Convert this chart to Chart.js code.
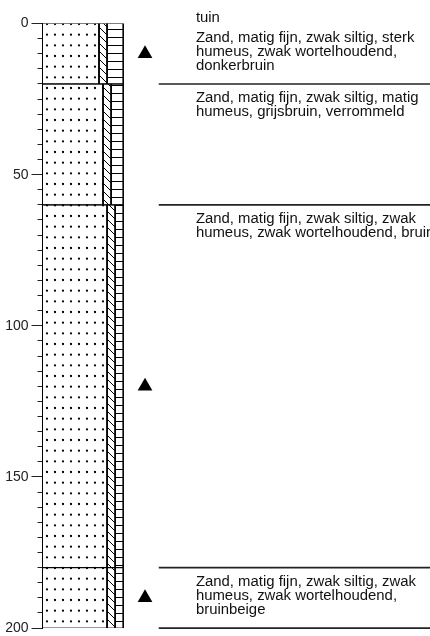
<!DOCTYPE html>
<html>
<head>
<meta charset="utf-8">
<script src="https://cdn.jsdelivr.net/npm/chart.js@4.4.1/dist/chart.umd.min.js"></script>
<style>
  html, body { margin: 0; padding: 0; background: #fff; }
</style>
</head>
<body>
<canvas id="boring" width="430" height="636"></canvas>
<script>
// layers, depth in cm below surface
const layerTop = [0, 20, 60, 180];
const layerBottom = [20, 60, 180, 200];
// share of the column width per layer (%)
const sandPart = [70, 75, 80, 80];
const siltPart = [10, 10, 10, 10];
const humusPart = [20, 15, 10, 10];
const layerText = [
    ['Zand, matig fijn, zwak siltig, sterk', 'humeus, zwak wortelhoudend,', 'donkerbruin'],
    ['Zand, matig fijn, zwak siltig, matig', 'humeus, grijsbruin, verrommeld'],
    ['Zand, matig fijn, zwak siltig, zwak', 'humeus, zwak wortelhoudend, bruin'],
    ['Zand, matig fijn, zwak siltig, zwak', 'humeus, zwak wortelhoudend,', 'bruinbeige']
];
const sampleDepth = [10, 120, 190];
const surfaceName = 'tuin';
const depthTicks = [0, 50, 100, 150, 200];
const minorStep = 5;

// horizontal layout in x-scale units (column = 0..100)
const X_MAX = 480;
const SAMPLE_X = 127;
const LINE_X = 144;
const TEXT_X = 190;
const FONT = '"Liberation Sans", Arial, sans-serif';

function makePattern(w, h, draw) {
    const c = document.createElement('canvas');
    c.width = w;
    c.height = h;
    const g = c.getContext('2d');
    draw(g);
    return g.createPattern(c, 'repeat');
}

const dots = makePattern(8, 32, function (g) {
    g.fillStyle = '#000';
    [2.67, 13.33, 24].forEach(function (y) {
        g.beginPath();
        g.arc(7, y, 1.15, 0, Math.PI * 2);
        g.fill();
    });
});
const hatch = makePattern(8, 8, function (g) {
    g.strokeStyle = '#000';
    g.lineWidth = 1;
    g.beginPath();
    g.moveTo(-1, -1);
    g.lineTo(9, 9);
    g.stroke();
});
const stripes = makePattern(8, 8, function (g) {
    g.fillStyle = '#000';
    g.fillRect(0, 5, 8, 1);
});

const parts = [sandPart, siltPart, humusPart];
const fills = [dots, hatch, stripes];
const datasets = [];

layerTop.forEach(function (top, i) {
    const bottom = layerBottom[i];
    let x0 = 0;
    parts.forEach(function (p, k) {
        const x1 = x0 + p[i];
        datasets.push({
            data: [
                { x: x0, y: top }, { x: x1, y: top },
                { x: x1, y: bottom }, { x: x0, y: bottom }, { x: x0, y: top }
            ],
            showLine: true,
            fill: 'shape',
            backgroundColor: fills[k],
            borderColor: '#000',
            borderWidth: 1,
            pointRadius: 0
        });
        x0 = x1;
    });
});

layerBottom.forEach(function (d) {
    datasets.push({
        data: [{ x: LINE_X, y: d }, { x: X_MAX, y: d }],
        showLine: true,
        borderColor: '#222',
        borderWidth: 1.6,
        pointRadius: 0,
        clip: 4
    });
});

datasets.push({
    data: sampleDepth.map(function (d) { return { x: SAMPLE_X, y: d }; }),
    pointStyle: 'triangle',
    pointRadius: 8.5,
    backgroundColor: '#000',
    borderWidth: 0
});

const textPlugin = {
    id: 'layerText',
    afterDatasetsDraw(chart) {
        const ctx = chart.ctx;
        const x = chart.scales.x;
        const y = chart.scales.y;
        const tx = x.getPixelForValue(TEXT_X);
        ctx.save();
        ctx.font = '14.9px ' + FONT;
        ctx.fillStyle = '#111';
        ctx.textBaseline = 'alphabetic';
        ctx.fillText(surfaceName, tx, y.getPixelForValue(0) - 2);
        layerText.forEach(function (lines, i) {
            const top = y.getPixelForValue(layerTop[i]);
            lines.forEach(function (s, j) {
                ctx.fillText(s, tx, top + 18 + j * 14.3);
            });
        });
        ctx.restore();
    }
};

new Chart(document.getElementById('boring'), {
    type: 'scatter',
    data: { datasets: datasets },
    plugins: [textPlugin],
    options: {
        responsive: false,
        devicePixelRatio: 1,
        animation: false,
        layout: { autoPadding: false, padding: { top: 23.5, bottom: 5.5, left: 0, right: 0 } },
        plugins: { legend: { display: false }, tooltip: { enabled: false } },
        scales: {
            x: { type: 'linear', min: 0, max: X_MAX, display: false },
            y: {
                type: 'linear',
                reverse: true,
                min: 0,
                max: 200,
                position: 'left',
                weight: 10,
                afterBuildTicks: function (s) {
                    s.ticks = depthTicks.map(function (v) { return { value: v }; });
                },
                afterFit: function (s) { s.width = 42.5; },
                grid: { drawOnChartArea: false, tickLength: 11, tickColor: '#222' },
                border: { display: true, color: '#000', width: 1 },
                ticks: {
                    padding: 3,
                    color: '#222',
                    font: { family: FONT, size: 14, lineHeight: 0.7 }
                }
            },
            yMinor: {
                type: 'linear',
                reverse: true,
                min: 0,
                max: 200,
                position: 'left',
                weight: 0,
                ticks: { display: false, stepSize: minorStep },
                afterFit: function (s) { s.width = 0; },
                grid: { drawOnChartArea: false, tickLength: 5, tickColor: '#222' },
                border: { display: false }
            }
        }
    }
});
</script>
</body>
</html>
